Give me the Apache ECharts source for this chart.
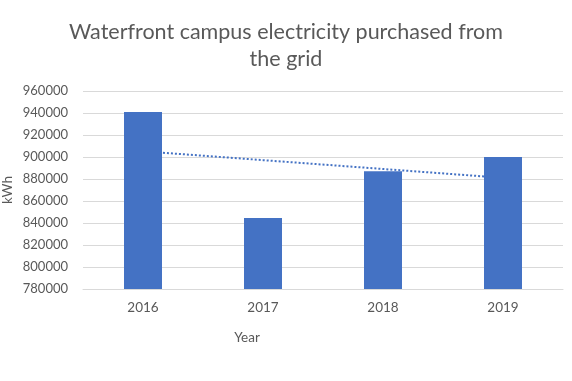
<!DOCTYPE html>
<html><head><meta charset="utf-8">
<script src="https://cdn.jsdelivr.net/npm/echarts@6/dist/echarts.min.js"></script>
<style>html,body{margin:0;padding:0;background:#fff}#c{width:572px;height:381px}</style>
</head><body><div id="c"></div>
<script>
var titleText = 'Waterfront campus electricity purchased from\nthe grid';
var categories = ['2016', '2017', '2018', '2019'];
var kwhValues = [941000, 844500, 887000, 900000];
var yTicks = {min: 780000, max: 960000, interval: 20000};

// Linear trendline (least squares) computed from the data, as Excel does
function linearTrend(vals) {
  var n = vals.length, sx = 0, sy = 0, sxx = 0, sxy = 0;
  for (var i = 0; i < n; i++) { var x = i + 1; sx += x; sy += vals[i]; sxx += x * x; sxy += x * vals[i]; }
  var b = (n * sxy - sx * sy) / (n * sxx - sx * sx);
  var a = (sy - b * sx) / n;
  return vals.map(function (_, i) { return a + b * (i + 1); });
}
var trend = linearTrend(kwhValues);

var chart = echarts.init(document.getElementById('c'), null, {renderer: 'canvas'});
var font = 'Lato, "Open Sans", sans-serif';
chart.setOption({
  animation: false,
  title: {
    text: titleText, left: 'center', top: 14,
    textStyle: {fontFamily: font, fontSize: 21.5, fontWeight: 'normal', color: '#595959', lineHeight: 27}
  },
  grid: {left: 83, right: 9, top: 91, bottom: 92, containLabel: false, outerBoundsMode: 'none'},
  xAxis: {
    type: 'category', data: categories,
    axisLine: {lineStyle: {color: '#d9d9d9', width: 1}},
    axisTick: {show: false},
    axisLabel: {color: '#595959', fontFamily: font, fontSize: 13.5, margin: 12},
    name: 'Year', nameLocation: 'middle', nameGap: 42, nameMoveOverlap: false,
    nameTextStyle: {color: '#595959', fontFamily: font, fontSize: 13.5, padding: [0, 152, 0, 0]}
  },
  yAxis: {
    type: 'value', min: yTicks.min, max: yTicks.max, interval: yTicks.interval,
    axisLine: {show: false}, axisTick: {show: false},
    splitLine: {lineStyle: {color: '#d9d9d9', width: 1}},
    axisLabel: {color: '#595959', fontFamily: font, fontSize: 13, margin: 15,
      formatter: function (v) { return String(v); }},
    name: 'kWh', nameLocation: 'middle', nameGap: 68, nameRotate: 90, nameMoveOverlap: false,
    nameTextStyle: {color: '#595959', fontFamily: font, fontSize: 13.5}
  },
  series: [
    {
      type: 'bar', data: kwhValues, barWidth: 38, z: 3,
      itemStyle: {color: '#4472C4'}
    },
    {
      type: 'line', data: trend, z: 2, symbol: 'none', silent: true,
      lineStyle: {color: '#4472C4', width: 2, type: [2, 2]}
    }
  ]
});
</script></body></html>
